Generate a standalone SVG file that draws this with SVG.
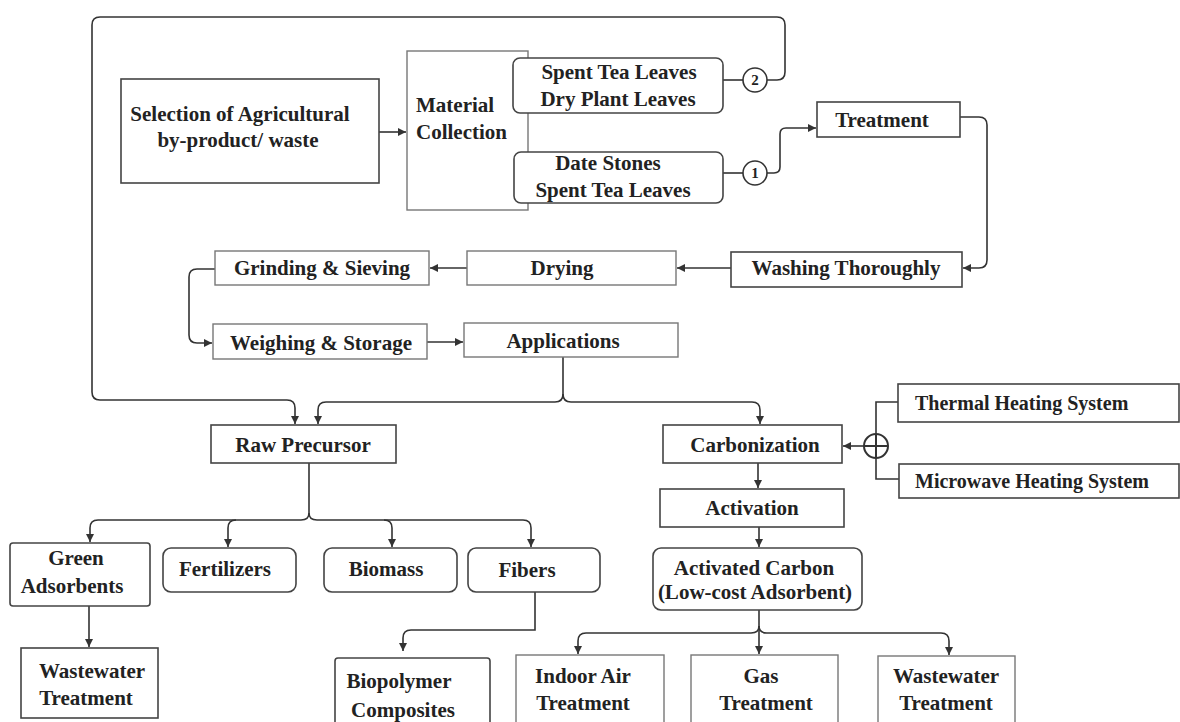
<svg xmlns="http://www.w3.org/2000/svg" width="1180" height="722" viewBox="0 0 1180 722">
<style>
.b{fill:#fff;stroke:#444;stroke-width:1.6}
.l{fill:#fff;stroke:#777;stroke-width:1.4}
.t{font-family:"Liberation Serif","Times New Roman",serif;font-weight:bold;font-size:21px;fill:#222;text-anchor:middle}
.s{font-family:"Liberation Serif","Times New Roman",serif;font-weight:bold;font-size:20px;fill:#222}
.n{font-family:"Liberation Serif","Times New Roman",serif;font-weight:bold;font-size:15px;fill:#222;text-anchor:middle}
.c{fill:none;stroke:#333;stroke-width:1.6}
.a{marker-end:url(#ah)}
</style>
<defs>
<marker id="ah" markerUnits="userSpaceOnUse" markerWidth="9" markerHeight="8" refX="8" refY="4" orient="auto">
<path d="M0,0 L8,4 L0,8 z" fill="#333"/>
</marker>
</defs>
<rect width="1180" height="722" fill="#fff"/>

<g id="connectors">
<path class="c a" d="M767,80 L777,80 Q785,80 785,72 L785,25 Q785,17 777,17 L100,17 Q92,17 92,25 L92,392 Q92,400 100,400 L287,400 Q295,400 295,408 L295,424"/>
<path class="c a" d="M379,132 L406,132"/>
<path class="c" d="M723,80 L743,80"/>
<path class="c" d="M723,173 L743,173"/>
<path class="c a" d="M767,173 L774,173 Q780,173 780,167 L780,134 Q780,128 786,128 L816,128"/>
<path class="c a" d="M960,117 L979,117 Q987,117 987,125 L987,260 Q987,268 979,268 L963,268"/>
<path class="c a" d="M731,268 L677,268"/>
<path class="c a" d="M467,268 L430,268"/>
<path class="c a" d="M215,269 L197,269 Q189,269 189,277 L189,335 Q189,343 197,343 L212,343"/>
<path class="c a" d="M427,342 L463,342"/>
<path class="c" d="M563,357 L563,394"/>
<path class="c a" d="M563,394 Q563,402 555,402 L326,402 Q318,402 318,410 L318,424"/>
<path class="c a" d="M563,394 Q563,402 571,402 L752,402 Q760,402 760,410 L760,424"/>
<path class="c a" d="M758,463 L758,488"/>
<path class="c a" d="M759,527 L759,547"/>
<path class="c a" d="M864,446 L843,446"/>
<path class="c" d="M876,434 L876,402 L898,402 M876,458 L876,479 L899,479"/>
<path class="c" d="M309,463 L309,513"/>
<path class="c a" d="M309,513 Q309,520 301,520 L98,520 Q90,520 90,528 L90,542"/>
<path class="c a" d="M309,513 Q309,520 317,520 L523,520 Q531,520 531,528 L531,547"/>
<path class="c a" d="M236,520 Q228,520 228,528 L228,547"/>
<path class="c a" d="M384,520 Q392,520 392,528 L392,547"/>
<path class="c a" d="M89,606 L89,647"/>
<path class="c a" d="M535,592 L535,630 L411,630 Q403,630 403,638 L403,651"/>
<path class="c" d="M759,610 L759,626"/>
<path class="c a" d="M759,626 Q759,633 751,633 L586,633 Q578,633 578,641 L578,654"/>
<path class="c a" d="M759,626 L759,654"/>
<path class="c a" d="M759,626 Q759,633 767,633 L941,633 Q949,633 949,641 L949,655"/>
</g>

<g id="selection"><rect class="b" x="121" y="79" width="258" height="104"/>
<text class="t" x="240" y="121">Selection of Agricultural</text>
<text class="t" x="238" y="147">by-product/ waste</text></g>

<g id="material"><rect class="l" x="407" y="51" width="121" height="159"/>
<text class="t" x="416" y="112" style="text-anchor:start">Material</text>
<text class="t" x="416" y="139" style="text-anchor:start">Collection</text></g>

<g id="spent-tea"><rect class="b" x="513" y="58" width="210" height="55" rx="7"/>
<text class="t" x="619" y="79">Spent Tea Leaves</text>
<text class="t" x="618" y="106">Dry Plant Leaves</text></g>

<g id="date-stones"><rect class="b" x="514" y="152" width="209" height="51" rx="7"/>
<text class="t" x="608" y="170">Date Stones</text>
<text class="t" x="613" y="197">Spent Tea Leaves</text></g>

<g id="circle2"><circle cx="755" cy="80" r="12" fill="#fff" stroke="#333" stroke-width="1.6"/>
<text class="n" x="755" y="85">2</text></g>
<g id="circle1"><circle cx="755" cy="173" r="12" fill="#fff" stroke="#333" stroke-width="1.6"/>
<text class="n" x="755" y="178">1</text></g>

<g id="treatment"><rect class="b" x="817" y="102" width="143" height="35"/>
<text class="t" x="882" y="127">Treatment</text></g>

<g id="washing"><rect class="b" x="731" y="252" width="231" height="35"/>
<text class="t" x="846" y="275">Washing Thoroughly</text></g>

<g id="drying"><rect class="l" x="467" y="251" width="209" height="34"/>
<text class="t" x="562" y="275">Drying</text></g>

<g id="grinding"><rect class="l" x="215" y="251" width="214" height="34"/>
<text class="t" x="322" y="275">Grinding &amp; Sieving</text></g>

<g id="weighing"><rect class="l" x="213" y="324" width="214" height="35"/>
<text class="t" x="321" y="350">Weighing &amp; Storage</text></g>

<g id="applications"><rect class="l" x="464" y="323" width="214" height="34"/>
<text class="t" x="563" y="348">Applications</text></g>

<g id="raw-precursor"><rect class="b" x="211" y="425" width="185" height="38"/>
<text class="t" x="303" y="452">Raw Precursor</text></g>

<g id="carbonization"><rect class="b" x="663" y="425" width="179" height="38"/>
<text class="t" x="755" y="452">Carbonization</text></g>

<g id="oplus"><circle cx="876" cy="446" r="12" fill="#fff" stroke="#333" stroke-width="2"/>
<path d="M864,446 L888,446 M876,434 L876,458" stroke="#333" stroke-width="2"/></g>

<g id="thermal"><rect class="b" x="898" y="384" width="281" height="38"/>
<text class="s" x="915" y="410">Thermal Heating System</text></g>

<g id="microwave"><rect class="b" x="899" y="464" width="280" height="34"/>
<text class="s" x="915" y="488">Microwave Heating System</text></g>

<g id="activation"><rect class="b" x="660" y="489" width="184" height="38"/>
<text class="t" x="752" y="515">Activation</text></g>

<g id="activated-carbon"><rect class="b" x="653" y="548" width="209" height="62" rx="8"/>
<text class="t" x="754" y="575">Activated Carbon</text>
<text class="t" x="755" y="599">(Low-cost Adsorbent)</text></g>

<g id="green"><rect class="b" x="10" y="543" width="140" height="63" rx="3"/>
<text class="t" x="76" y="565">Green</text>
<text class="t" x="72" y="593">Adsorbents</text></g>

<g id="fertilizers"><rect class="b" x="163" y="548" width="133" height="44" rx="8"/>
<text class="t" x="225" y="576">Fertilizers</text></g>

<g id="biomass"><rect class="b" x="324" y="548" width="133" height="44" rx="8"/>
<text class="t" x="386" y="576">Biomass</text></g>

<g id="fibers"><rect class="b" x="468" y="548" width="132" height="44" rx="8"/>
<text class="t" x="527" y="577">Fibers</text></g>

<g id="wastewater-left"><rect class="b" x="21" y="648" width="137" height="70"/>
<text class="t" x="92" y="678">Wastewater</text>
<text class="t" x="86" y="705">Treatment</text></g>

<g id="biopolymer"><rect class="b" x="335" y="658" width="155" height="80" rx="3"/>
<text class="t" x="399" y="688">Biopolymer</text>
<text class="t" x="403" y="717">Composites</text></g>

<g id="indoor-air"><rect class="l" x="516" y="655" width="148" height="80"/>
<text class="t" x="583" y="683">Indoor Air</text>
<text class="t" x="583" y="710">Treatment</text></g>

<g id="gas"><rect class="l" x="691" y="655" width="147" height="80"/>
<text class="t" x="761" y="683">Gas</text>
<text class="t" x="766" y="710">Treatment</text></g>

<g id="wastewater-right"><rect class="l" x="878" y="656" width="137" height="80"/>
<text class="t" x="946" y="683">Wastewater</text>
<text class="t" x="946" y="710">Treatment</text></g>
</svg>
